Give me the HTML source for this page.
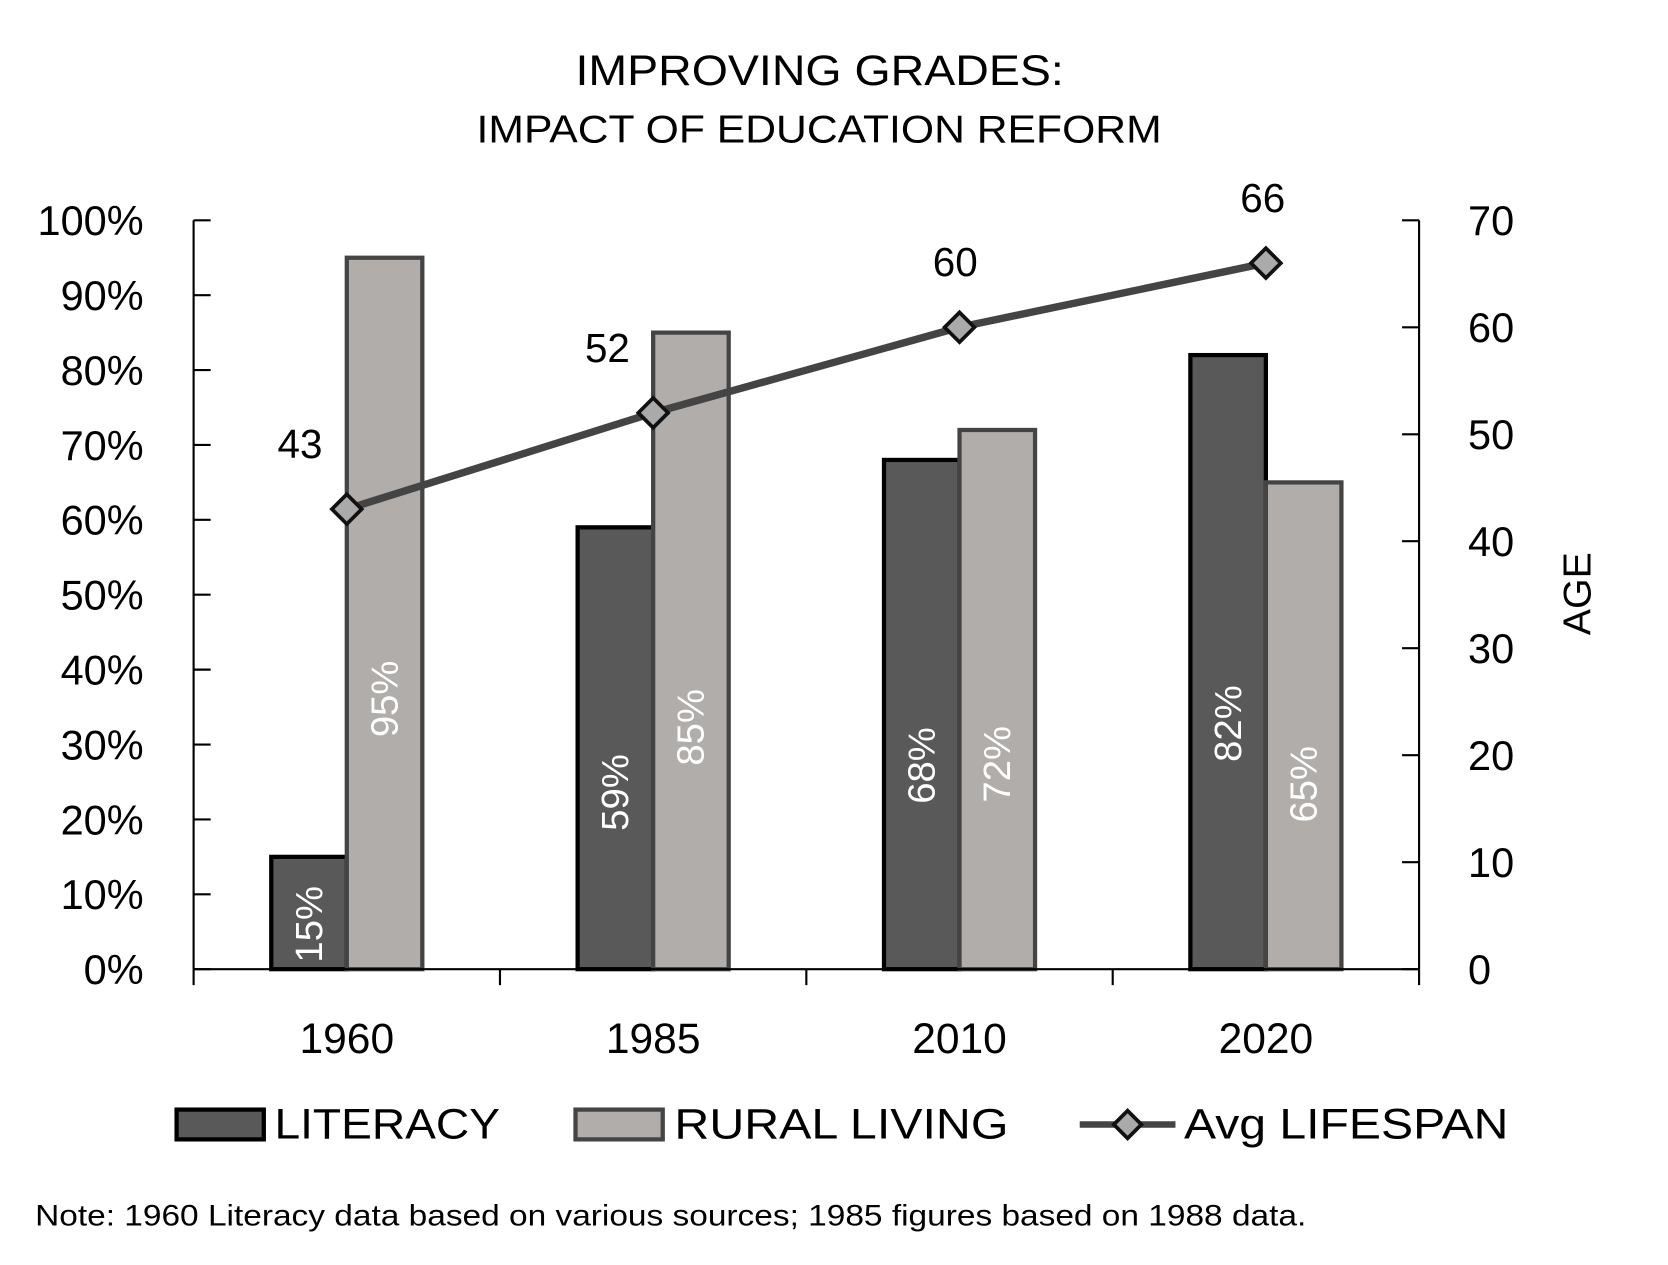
<!DOCTYPE html>
<html><head><meta charset="utf-8"><style>
html,body{margin:0;padding:0;background:#fff}
svg{display:block}
text{font-family:"Liberation Sans","DejaVu Sans",sans-serif;fill:#000}
</style></head><body>
<svg id="chart" width="1668" height="1265" viewBox="0 0 1568 1189" xmlns="http://www.w3.org/2000/svg">
<text x="541" y="80" font-size="40" textLength="459" lengthAdjust="spacingAndGlyphs">IMPROVING GRADES:</text>
<text x="448" y="134" font-size="37" textLength="644" lengthAdjust="spacingAndGlyphs">IMPACT OF EDUCATION REFORM</text>
<g id="plot"></g>
<g>
<rect x="166" y="1043" width="82" height="28" fill="#595959" stroke="#000" stroke-width="4"/>
<text x="258" y="1070" font-size="40" textLength="212" lengthAdjust="spacingAndGlyphs">LITERACY</text>
<rect x="541" y="1043" width="82" height="28" fill="#b0adab" stroke="#444" stroke-width="4"/>
<text x="634" y="1070" font-size="40" textLength="314" lengthAdjust="spacingAndGlyphs">RURAL LIVING</text>
<line x1="1015" y1="1057" x2="1105" y2="1057" stroke="#444" stroke-width="6"/>
<polygon points="1060,1044 1073,1057 1060,1070 1047,1057" fill="#aaa" stroke="#111" stroke-width="3.5"/>
<text x="1113" y="1070" font-size="40" textLength="305" lengthAdjust="spacingAndGlyphs">Avg LIFESPAN</text>
</g>
<text x="33" y="1152" font-size="28" textLength="1195" lengthAdjust="spacingAndGlyphs">Note: 1960 Literacy data based on various sources; 1985 figures based on 1988 data.</text>
</svg>
<script>
const categories = ["1960","1985","2010","2020"];
const literacy = [15,59,68,82];
const rural = [95,85,72,65];
const lifespan = [43,52,60,66];
const leftTicks = ["0%","10%","20%","30%","40%","50%","60%","70%","80%","90%","100%"];
const rightTicks = ["0","10","20","30","40","50","60","70"];

const NS="http://www.w3.org/2000/svg";
const g=document.getElementById('plot');
const X0=182,X1=1334,Y0=911,Y1=207;
const catW=(X1-X0)/categories.length;
const yL=v=>Y0-(v/100)*(Y0-Y1);
const yR=v=>Y0-(v/70)*(Y0-Y1);
const xC=i=>X0+catW*(i+0.5);
const labelDx=[-44,-43,-4,-3];
function el(t,a,txt){const e=document.createElementNS(NS,t);for(const k in a)e.setAttribute(k,a[k]);if(txt!==undefined)e.textContent=txt;g.appendChild(e);return e;}

let e;
e=el('line',{x1:X0,y1:Y1,x2:X0,y2:Y0,stroke:'#000','stroke-width':2});


e=el('line',{x1:X1,y1:Y1,x2:X1,y2:Y0,stroke:'#000','stroke-width':2});


leftTicks.forEach((t,i)=>{const y=yL(i*10);
  el('line',{x1:X0,y1:y,x2:X0+16,y2:y,stroke:'#000','stroke-width':2});
  e=el('text',{x:135,y:y+14,'font-size':39,'text-anchor':'end'},t);
  
  
});
rightTicks.forEach((t,i)=>{const y=yR(i*10);
  el('line',{x1:X1-16,y1:y,x2:X1,y2:y,stroke:'#000','stroke-width':2});
  e=el('text',{x:1380,y:y+14,'font-size':39},t);
  
  
});
e=el('text',{x:0,y:0,'font-size':37,'text-anchor':'middle',transform:'translate(1495,558) rotate(-90)'},'AGE');



const bw=71;
categories.forEach((c,i)=>{
  const cx=xC(i);
  const hL=Y0-yL(literacy[i]);
  e=el('rect',{x:cx-bw,y:yL(literacy[i]),width:bw,height:hL,fill:'#595959',stroke:'#000','stroke-width':4});
  
  
  const hR=Y0-yL(rural[i]);
  e=el('rect',{x:cx,y:yL(rural[i]),width:bw,height:hR,fill:'#b0adab',stroke:'#444','stroke-width':4});
  
  
  const ly=Y0-hL*0.4;
  e=el('text',{x:0,y:0,'font-size':36,'text-anchor':'middle',transform:`translate(${cx-bw/2+12},${ly}) rotate(-90)`},literacy[i]+'%');
  e.setAttribute('style','fill:#fff');
  
  
  const ry=Y0-hR*0.38;
  e=el('text',{x:0,y:0,'font-size':36,'text-anchor':'middle',transform:`translate(${cx+bw/2+12},${ry}) rotate(-90)`},rural[i]+'%');
  e.setAttribute('style','fill:#fff');
  
  
});

el('line',{x1:X0,y1:Y0,x2:X1,y2:Y0,stroke:'#000','stroke-width':2});
for(let i=0;i<=categories.length;i++){const x=X0+catW*i;el('line',{x1:x,y1:Y0,x2:x,y2:Y0+15,stroke:'#000','stroke-width':2});}
categories.forEach((c,i)=>{
  e=el('text',{x:xC(i),y:990,'font-size':40,'text-anchor':'middle'},c);
  
  
});

const pts=lifespan.map((v,i)=>xC(i)+','+yR(v)).join(' ');
e=el('polyline',{points:pts,fill:'none',stroke:'#444','stroke-width':7,'stroke-linejoin':'round'});


lifespan.forEach((v,i)=>{
  const x=xC(i),y=yR(v);
  e=el('polygon',{points:`${x},${y-14} ${x+14},${y} ${x},${y+14} ${x-14},${y}`,fill:'#aaa',stroke:'#111','stroke-width':3.5});
  
  
  e=el('text',{x:x+labelDx[i],y:y-48,'font-size':38,'text-anchor':'middle'},v);
  
  
});
</script>
</body></html>
